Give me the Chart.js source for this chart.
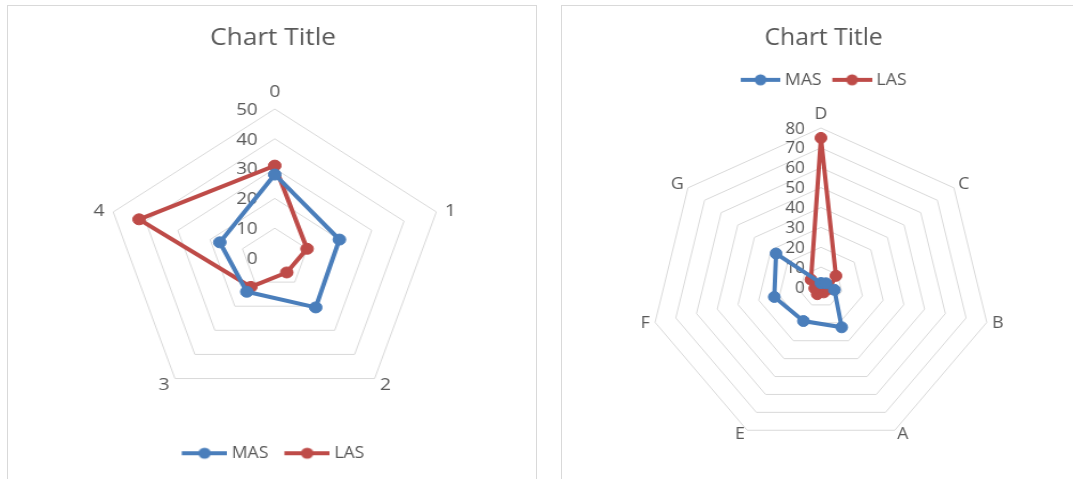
<!DOCTYPE html>
<html>
<head>
<meta charset="utf-8">
<title>MAS / LAS radar charts</title>
<script src="https://cdn.jsdelivr.net/npm/chart.js@4.4.1/dist/chart.umd.min.js"></script>
<style>
  html, body { margin: 0; padding: 0; background: #ffffff; width: 1073px; height: 479px; overflow: hidden; }
  .panel { position: absolute; border: 1px solid #d9d9d9; box-sizing: border-box; background: #ffffff; }
  #panelLeft { left: 7px; top: 5px; width: 530px; height: 500px; }
  #panelRight { left: 561px; top: 5px; width: 620px; height: 500px; }
  .stretch { position: absolute; transform-origin: 0 0; }
  #wrapLeft { left: 8px; top: 6px; transform: scaleX(1.14); }
  #wrapRight { left: 562px; top: 6px; transform: scaleX(1.07); }
  canvas { display: block; }
</style>
</head>
<body>
<div class="panel" id="panelLeft"></div>
<div class="panel" id="panelRight"></div>
<div class="stretch" id="wrapLeft"><canvas id="radarLeft" width="463" height="473"></canvas></div>
<div class="stretch" id="wrapRight"><canvas id="radarRight" width="485" height="473"></canvas></div>
<script>
// ---- data ----
const leftCategories = ['0', '1', '2', '3', '4'];
const leftMAS = [28, 20, 20.5, 14, 17];
const leftLAS = [31, 10, 6, 12, 42];
const leftAxisMax = 50;

const rightCategories = ['D', 'C', 'B', 'A', 'E', 'F', 'G'];
const rightMAS = [2, 3, 6.5, 22.5, 19, 22.5, 27];
const rightLAS = [75, 9, 4, 3, 4, 3, 6];
const rightAxisMax = 80;

const tickStep = 10;
const seriesNames = ['MAS', 'LAS'];

// ---- styling ----
const TEXT = '#595959';
const GRID = '#d9d9d9';
const BLUE = '#4a7ebb';
const RED = '#be4b48';

Chart.defaults.font.family = '"Open Sans", "DejaVu Sans", sans-serif';
Chart.defaults.color = TEXT;

// plot centre / radius for each canvas (canvas pixels)
const PLOT_GEOMETRY = {
  radarLeft:  { cx: 234, cy: 252, r: 149, tickFont: 16.5, labelFont: 17, tickGap: 15, labelGap: 8, sideDrop: 2 },
  radarRight: { cx: 242, cy: 281, r: 159, tickFont: 16, labelFont: 16.5, tickGap: 15, labelGap: 5, sideDrop: 0 }
};

// radial scale with a fixed centre and radius
class FixedRadialScale extends Chart.RadialLinearScale {
  setCenterPoint() {
    const g = PLOT_GEOMETRY[this.chart.canvas.id];
    this.xCenter = g.cx;
    this.yCenter = g.cy;
    this.drawingArea = g.r;
  }
}
FixedRadialScale.id = 'fixedRadial';
FixedRadialScale.defaults = Chart.RadialLinearScale.defaults;
Chart.register(FixedRadialScale);

// value labels left of the vertical axis, category labels around the outer ring
const axisText = {
  id: 'axisText',
  beforeDatasetsDraw(chart) {
    const scale = chart.scales.r;
    const g = PLOT_GEOMETRY[chart.canvas.id];
    const ctx = chart.ctx;
    ctx.save();
    ctx.fillStyle = TEXT;
    ctx.font = g.tickFont + 'px "Open Sans"';
    ctx.textAlign = 'right';
    ctx.textBaseline = 'middle';
    scale.ticks.forEach(t => {
      const d = scale.getDistanceFromCenterForValue(t.value);
      ctx.fillText(t.label, scale.xCenter - g.tickGap, scale.yCenter - d + 1);
    });
    ctx.font = g.labelFont + 'px "Open Sans"';
    chart.data.labels.forEach((label, i) => {
      const p = scale.getPointPosition(i, scale.drawingArea + g.labelGap);
      const a = scale.getIndexAngle(i);
      const sx = Math.sin(a), cy = Math.cos(a);
      ctx.textAlign = Math.abs(sx) < 0.05 ? 'center' : (sx > 0 ? 'left' : 'right');
      ctx.textBaseline = 'middle';
      let y = p.y - (cy > 0.9 ? g.labelFont * 0.5 : 0);
      if (Math.abs(sx) > 0.9) y += g.sideDrop;
      ctx.fillText(label, p.x, y);
    });
    ctx.restore();
  }
};

// line-with-marker legend symbol; the line sits at the right end of the image
function legendSwatch(color, imgWidth, lineLength) {
  const c = document.createElement('canvas');
  c.width = imgWidth; c.height = 14;
  const g = c.getContext('2d');
  const x0 = imgWidth - lineLength;
  g.strokeStyle = color;
  g.lineWidth = 4;
  g.beginPath(); g.moveTo(x0, 7); g.lineTo(imgWidth, 7); g.stroke();
  g.fillStyle = color;
  g.beginPath(); g.arc(x0 + lineLength / 2, 7, 5.5, 0, Math.PI * 2); g.fill();
  return c;
}

function series(label, values, color) {
  return {
    label, data: values,
    borderColor: color, backgroundColor: color,
    borderWidth: 4, fill: false, tension: 0,
    pointRadius: 5.5, pointBorderWidth: 1,
    pointBackgroundColor: color, pointBorderColor: color,
    clip: false
  };
}

function makeRadar(id, categories, mas, las, axisMax, legendOpts) {
  return new Chart(document.getElementById(id), {
    type: 'radar',
    data: {
      labels: categories,
      datasets: [series(seriesNames[0], mas, BLUE), series(seriesNames[1], las, RED)]
    },
    plugins: [axisText],
    options: {
      responsive: false,
      animation: false,
      events: [],
      layout: { padding: legendOpts.layoutPadding },
      scales: {
        r: {
          type: 'fixedRadial',
          min: 0, max: axisMax,
          ticks: { stepSize: tickStep, display: false },
          grid: { color: GRID, lineWidth: 1 },
          angleLines: { display: false },
          pointLabels: { display: false }
        }
      },
      plugins: {
        tooltip: { enabled: false },
        title: {
          display: true, text: 'Chart Title', color: TEXT,
          font: { size: 23, weight: 'normal' },
          padding: legendOpts.titlePadding
        },
        legend: {
          position: legendOpts.position,
          labels: {
            usePointStyle: true,
            pointStyleWidth: legendOpts.boxWidth,
            padding: legendOpts.padding,
            color: TEXT,
            font: { size: legendOpts.fontSize },
            generateLabels(chart) {
              const items = Chart.defaults.plugins.legend.labels.generateLabels(chart);
              items.forEach(it => {
                it.pointStyle = legendSwatch(chart.data.datasets[it.datasetIndex].borderColor,
                                             legendOpts.boxWidth + 8, legendOpts.line);
              });
              return items;
            }
          }
        }
      }
    }
  });
}

makeRadar('radarLeft', leftCategories, leftMAS, leftLAS, leftAxisMax, {
  position: 'bottom', boxWidth: 36, line: 40, padding: 14, fontSize: 15.5,
  titlePadding: { top: 19, bottom: 4 },
  layoutPadding: { bottom: 8, left: 2 }
});

makeRadar('radarRight', rightCategories, rightMAS, rightLAS, rightAxisMax, {
  position: 'top', boxWidth: 33, line: 37, padding: 10, fontSize: 16.5,
  titlePadding: { top: 19, bottom: 9 },
  layoutPadding: { left: 4 }
});
</script>
</body>
</html>
